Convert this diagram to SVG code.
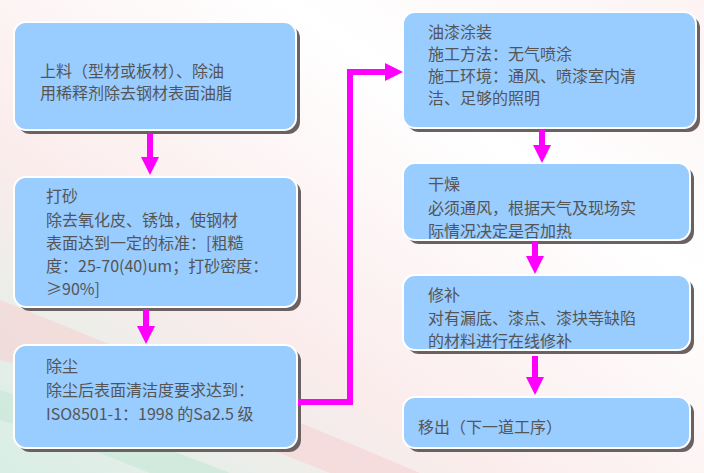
<svg xmlns="http://www.w3.org/2000/svg" width="704" height="473" viewBox="0 0 704 473">
<defs>
<linearGradient id="bg" x1="0" y1="1" x2="1" y2="0">
<stop offset="0" stop-color="#d8efe6"/><stop offset="0.35" stop-color="#fbecec"/><stop offset="0.7" stop-color="#ffffff"/><stop offset="1" stop-color="#fdf3f3"/>
</linearGradient>
<marker id="ah" viewBox="0 0 10 10" refX="5" refY="5" markerWidth="3" markerHeight="3" orient="auto"><path d="M0,0 L10,5 L0,10 z" fill="#ff00ff"/></marker>
</defs>
<style>
.box{fill:#99ccff;stroke:#ffffff;stroke-width:2}
.sh{fill:#6b6161}
text{font-family:"Noto Sans CJK SC","Liberation Sans",sans-serif;font-size:16px;fill:#555555}
.c{stroke:#ff00ff;stroke-width:6;fill:none}
</style>
<rect width="704" height="473" fill="url(#bg)"/>
<path d="M0,300 Q200,380 420,473 L330,473 Q150,400 0,360 z" fill="#f6d2d2" opacity="0.6"/>
<path d="M0,390 Q120,430 230,473 L150,473 Q70,440 0,420 z" fill="#c9e8d8" opacity="0.7"/>
<g id="n1"><rect class="sh" x="18" y="26" width="282" height="108" rx="12"/><rect class="box" x="14" y="22" width="282" height="108" rx="12"/>
<text x="40" y="77">上料（型材或板材）、除油</text><text x="40" y="99">用稀释剂除去钢材表面油脂</text></g>
<g id="n2"><rect class="sh" x="18" y="181" width="283" height="130" rx="12"/><rect class="box" x="14" y="177" width="283" height="130" rx="12"/>
<text x="46" y="202">打砂</text><text x="46" y="226">除去氧化皮、锈蚀，使钢材</text><text x="46" y="249">表面达到一定的标准：[粗糙</text><text x="46" y="272">度：25-70(40)um；打砂密度：</text><text x="46" y="295">≥90%]</text></g>
<g id="n3"><rect class="sh" x="18" y="349" width="283" height="103" rx="12"/><rect class="box" x="14" y="345" width="283" height="103" rx="12"/>
<text x="46" y="372">除尘</text><text x="46" y="396">除尘后表面清洁度要求达到：</text><text x="46" y="420">ISO8501-1：1998 的Sa2.5 级</text></g>
<g id="n4"><rect class="sh" x="407" y="16" width="293" height="116" rx="12"/><rect class="box" x="403" y="12" width="293" height="116" rx="12"/>
<text x="428" y="38">油漆涂装</text><text x="428" y="60">施工方法：无气喷涂</text><text x="428" y="82">施工环境：通风、喷漆室内清</text><text x="428" y="104">洁、足够的照明</text></g>
<g id="n5"><rect class="sh" x="407" y="167" width="287" height="77" rx="12"/><rect class="box" x="403" y="163" width="287" height="77" rx="12"/>
<text x="428" y="190">干燥</text><text x="428" y="214">必须通风，根据天气及现场实</text><text x="428" y="237">际情况决定是否加热</text></g>
<g id="n6"><rect class="sh" x="407" y="279" width="287" height="75" rx="12"/><rect class="box" x="403" y="275" width="287" height="75" rx="12"/>
<text x="428" y="301">修补</text><text x="428" y="324">对有漏底、漆点、漆块等缺陷</text><text x="428" y="347">的材料进行在线修补</text></g>
<g id="n7"><rect class="sh" x="407" y="401" width="287" height="51" rx="12"/><rect class="box" x="403" y="397" width="287" height="51" rx="12"/>
<text x="418" y="433">移出（下一道工序）</text></g>
<g id="connectors">
<path class="c" d="M150,134 V166" marker-end="url(#ah)"/>
<path class="c" d="M146,309 V335" marker-end="url(#ah)"/>
<path class="c" d="M298,402 H350 V72 H394" marker-end="url(#ah)"/>
<path class="c" d="M542,130 V154" marker-end="url(#ah)"/>
<path class="c" d="M535,242 V265" marker-end="url(#ah)"/>
<path class="c" d="M535,356 V386" marker-end="url(#ah)"/>
</g>
</svg>
